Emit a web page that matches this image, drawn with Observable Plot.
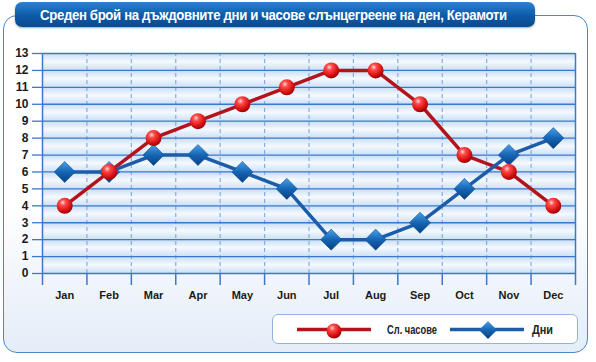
<!DOCTYPE html>
<html><head><meta charset="utf-8">
<script src="https://cdn.jsdelivr.net/npm/d3@7"></script>
<script src="https://cdn.jsdelivr.net/npm/@observablehq/plot@0.6"></script>
<style>
html,body{margin:0;padding:0;background:#fff;}
#wrap{position:relative;width:596px;height:362px;overflow:hidden;font-family:"Liberation Sans",Arial,sans-serif;}
#frame{position:absolute;left:3px;top:15px;width:585px;height:338px;border:1.5px solid #4f86c6;border-radius:14px;background:linear-gradient(#ffffff 0%,#ffffff 55%,#e4edf8 100%);box-sizing:border-box;}
#titlebox{position:absolute;left:15px;top:2px;width:520px;height:25px;border-radius:7px;background:linear-gradient(#2a82cf,#0d5aa8 55%,#0a4a8e);box-shadow:0 1px 2px rgba(0,0,0,.35);}
#title{position:absolute;left:40px;top:2px;height:25px;line-height:25px;white-space:nowrap;color:#fff;font-weight:bold;font-size:15px;letter-spacing:-0.4px;transform:scaleX(0.88);transform-origin:0 50%;}
#chart{position:absolute;left:0;top:0;}
#legend{position:absolute;left:272px;top:314px;width:306px;height:30px;box-sizing:border-box;background:#fff;border:1px solid #93b3de;border-radius:6px;}
#legend svg{position:absolute;left:0;top:0;}
</style></head>
<body>
<div id="wrap">
  <div id="frame"></div>
  <div id="chart"></div>
  <div id="titlebox"></div>
  <div id="title"></div>
  <div id="legend"></div>
</div>
<script>
const titleText = "Среден брой на дъждовните дни и часове слънцегреене на ден, Керамоти";
const months = ["Jan","Feb","Mar","Apr","May","Jun","Jul","Aug","Sep","Oct","Nov","Dec"];
const sunHours = [4,6,8,9,10,11,12,12,10,7,6,4];
const rainDays = [6,6,7,7,6,5,2,2,3,5,7,8];
const yTicks = [0,1,2,3,4,5,6,7,8,9,10,11,12,13];
const seriesNames = ["Сл. часове","Дни"];

const sun = months.map((m,i)=>({i, v:sunHours[i]}));
const rain = months.map((m,i)=>({i, v:rainDays[i]}));
const bands = yTicks.slice(0,-1);
const bounds = d3.range(months.length+1);
const inner = bounds.slice(1,-1);
const centers = months.map((m,i)=>i+0.5);

const NS = "http://www.w3.org/2000/svg";
function defs(){
  const g = document.createElementNS(NS,"defs");
  g.innerHTML = `
  <linearGradient id="band" x1="0" y1="0" x2="0" y2="1">
    <stop offset="0" stop-color="#c6dcf3"/>
    <stop offset="0.5" stop-color="#f5f9fe"/>
    <stop offset="1" stop-color="#cde1f5"/>
  </linearGradient>
  <radialGradient id="ball" cx="0.38" cy="0.3" r="0.75">
    <stop offset="0" stop-color="#ffd6d6"/>
    <stop offset="0.25" stop-color="#ff4a4a"/>
    <stop offset="0.7" stop-color="#d40f0f"/>
    <stop offset="1" stop-color="#8a0000"/>
  </radialGradient>
  <linearGradient id="dia" x1="0" y1="0" x2="0" y2="1">
    <stop offset="0" stop-color="#4aa0e6"/>
    <stop offset="0.5" stop-color="#1565b4"/>
    <stop offset="1" stop-color="#0a3f80"/>
  </linearGradient>`;
  return g;
}

const blue = "#3a78cc";
const chart = Plot.plot({
  width: 596, height: 362,
  marginLeft: 42, marginRight: 21, marginTop: 53, marginBottom: 89,
  style: {background: "transparent", fontFamily: "'Liberation Sans',Arial,sans-serif"},
  x: {type: "linear", domain: [0, months.length], axis: null},
  y: {domain: [0, 13], axis: null},
  marks: [
    defs,
    Plot.rect(bands, {x1: () => 0, x2: () => months.length, y1: d => d, y2: d => d + 1, fill: "url(#band)"}),
    Plot.ruleX(inner, {y1: 0, y2: 13, stroke: "#86ade2", strokeWidth: 1.2, strokeDasharray: "4,3"}),
    Plot.ruleY(yTicks, {stroke: blue, strokeWidth: 1.3}),
    Plot.ruleX([0, months.length], {y1: 0, y2: 13, stroke: blue, strokeWidth: 1.5}),
    Plot.axisY(yTicks, {label: null, tickSize: 10, tickPadding: 4, stroke: blue, strokeWidth: 1.3, fill: "#1a1a1a", fontSize: 12, fontWeight: "bold", tickFormat: d => String(d)}),
    Plot.axisX(bounds, {label: null, tickSize: 12, stroke: blue, strokeWidth: 1.5, tickFormat: () => ""}),
    Plot.axisX(centers, {label: null, tickSize: 0, tickPadding: 18, fill: "#1a1a1a", fontSize: 11, fontWeight: "bold", tickFormat: d => months[Math.floor(d)]}),
    Plot.line(sun, {x: d => d.i + 0.5, y: "v", stroke: "#b3141c", strokeWidth: 3.5}),
    Plot.line(rain, {x: d => d.i + 0.5, y: "v", stroke: "#1c5ca8", strokeWidth: 3.5}),
    Plot.dot(rain, {x: d => d.i + 0.5, y: "v", symbol: "diamond2", r: 9.5, fill: "url(#dia)", stroke: "#0d4f98", strokeWidth: 0.6}),
    Plot.dot(sun, {x: d => d.i + 0.5, y: "v", r: 8, fill: "url(#ball)", stroke: "none"})
  ]
});
document.getElementById("chart").appendChild(chart);

document.getElementById("title").textContent = titleText;

document.getElementById("legend").innerHTML = `
<svg width="306" height="30">
  <defs>
    <radialGradient id="ball2" cx="0.38" cy="0.3" r="0.75">
      <stop offset="0" stop-color="#ffd6d6"/><stop offset="0.25" stop-color="#ff4a4a"/>
      <stop offset="0.7" stop-color="#d40f0f"/><stop offset="1" stop-color="#8a0000"/>
    </radialGradient>
    <linearGradient id="dia2" x1="0" y1="0" x2="0" y2="1">
      <stop offset="0" stop-color="#4aa0e6"/><stop offset="0.5" stop-color="#1565b4"/><stop offset="1" stop-color="#0a3f80"/>
    </linearGradient>
  </defs>
  <line x1="24" x2="98" y1="14.5" y2="14.5" stroke="#b3141c" stroke-width="3.5"/>
  <circle cx="61" cy="16" r="7.5" fill="url(#ball2)"/>
  <line x1="177" x2="251" y1="14.5" y2="14.5" stroke="#1c5ca8" stroke-width="3.5"/>
  <path d="M215,6 L224,15 L215,24 L206,15 Z" fill="url(#dia2)"/>
  <g font-family="'Liberation Sans',Arial,sans-serif" font-weight="bold" font-size="12.5" fill="#222">
    <text x="114" y="19" textLength="50" lengthAdjust="spacingAndGlyphs">${seriesNames[0]}</text>
    <text x="259" y="19" textLength="21" lengthAdjust="spacingAndGlyphs">${seriesNames[1]}</text>
  </g>
</svg>`;
</script>
</body></html>
